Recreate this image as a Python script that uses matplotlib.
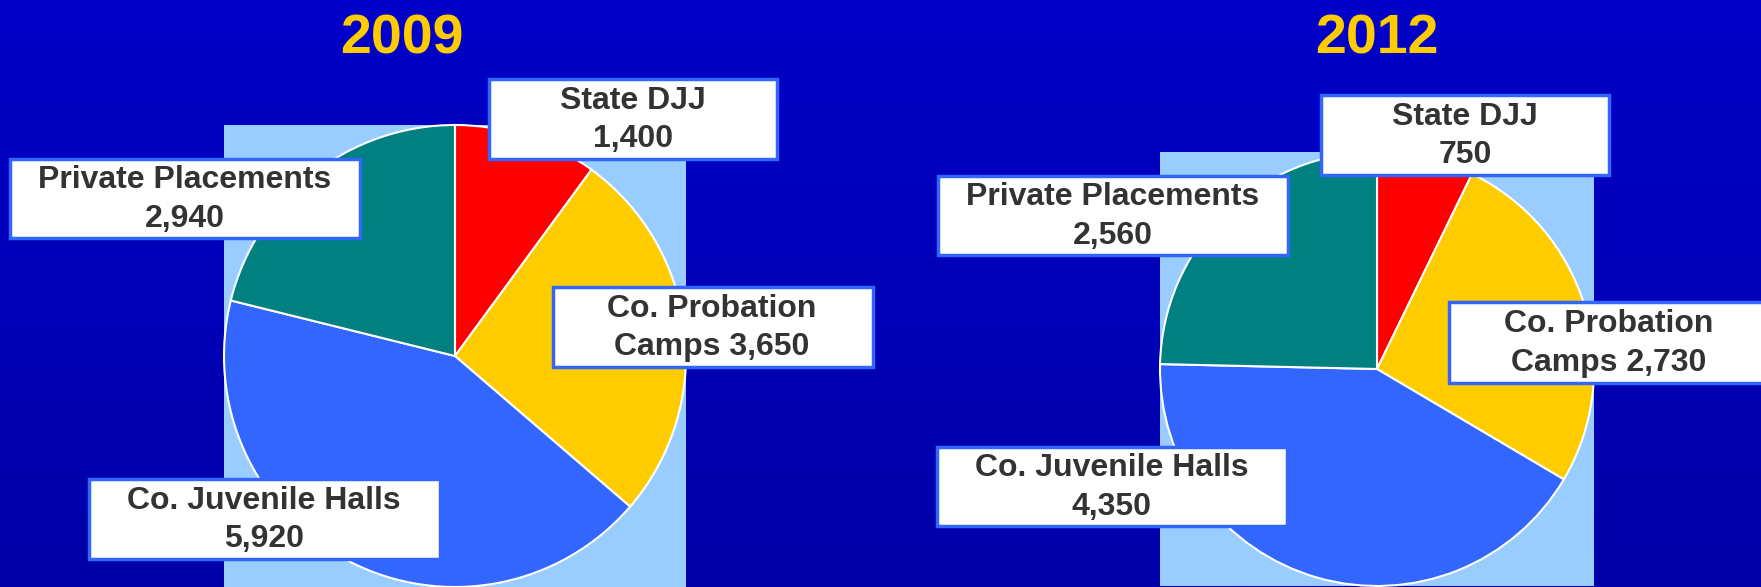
import numpy as np
import matplotlib.pyplot as plt
from matplotlib.patches import Rectangle

plt.rcParams['font.family'] = ['Liberation Sans', 'DejaVu Sans']

W, H = 1761, 587

# placements per year: State DJJ, Co. Probation Camps, Co. Juvenile Halls, Private Placements
data = {
    '2009': [1400, 3650, 5920, 2940],
    '2012': [750, 2730, 4350, 2560],
}
colors = ['#FF0000', '#FFCC00', '#3366FF', '#008080']

# layout in pixels (x, y from top)
layout = {
    '2009': dict(title_x=402, cx=455, cy=356, r=231,
                 boxes=[(489, 79, 777, 159, 633, 'State DJJ\n1,400'),
                        (553, 287, 873, 367, 712, 'Co. Probation\nCamps 3,650'),
                        (89, 479, 440, 559, 264, 'Co. Juvenile Halls\n5,920'),
                        (10, 159, 360, 238, 185, 'Private Placements\n2,940')]),
    '2012': dict(title_x=1377, cx=1377, cy=369, r=217,
                 boxes=[(1321, 95, 1609, 175, 1465, 'State DJJ\n750'),
                        (1449, 302, 1790, 383, 1609, 'Co. Probation\nCamps 2,730'),
                        (937, 447, 1287, 526, 1112, 'Co. Juvenile Halls\n4,350'),
                        (938, 176, 1288, 255, 1113, 'Private Placements\n2,560')]),
}

fig = plt.figure(figsize=(W / 100, H / 100), dpi=100)
ax = fig.add_axes([0, 0, 1, 1])

# background gradient
grad = np.linspace(0, 1, 256).reshape(-1, 1)
top = np.array([0x00, 0x00, 0xC8]) / 255
bot = np.array([0x00, 0x00, 0xA8]) / 255
img = top + (bot - top) * grad[:, :, None]
ax.imshow(img, extent=[0, W, 0, H], aspect='auto', zorder=0)

for year, vals in data.items():
    L = layout[year]
    cx, cy, r = L['cx'], H - L['cy'], L['r']
    ax.add_patch(Rectangle((cx - r, cy - r), 2 * r, 2 * r, facecolor='#99CCFF',
                           edgecolor='none', zorder=1))
    wedges, _ = ax.pie(vals, colors=colors, startangle=90, counterclock=False,
                       center=(cx, cy), radius=r, frame=True,
                       wedgeprops=dict(edgecolor='white', linewidth=1.5))
    for w in wedges:
        w.set_zorder(2)
    ax.text(L['title_x'], H - 54, year, ha='center', va='baseline', fontsize=40,
            fontweight='bold', color='#FFCC00', zorder=5)
    for x0, y0, x1, y1, tx, label in L['boxes']:
        ax.add_patch(Rectangle((x0, H - y1), x1 - x0, y1 - y0, facecolor='white',
                               edgecolor='#3366FF', linewidth=2.5, zorder=3))
        ax.text(tx, H - (y0 + y1) / 2 - 1, label, ha='center', va='center',
                fontsize=23, fontweight='bold', color='#333333',
                linespacing=1.35, zorder=4)

ax.set_xlim(0, W)
ax.set_ylim(0, H)
ax.set_aspect('auto')
ax.axis('off')

fig.savefig('out.png', dpi=100)
